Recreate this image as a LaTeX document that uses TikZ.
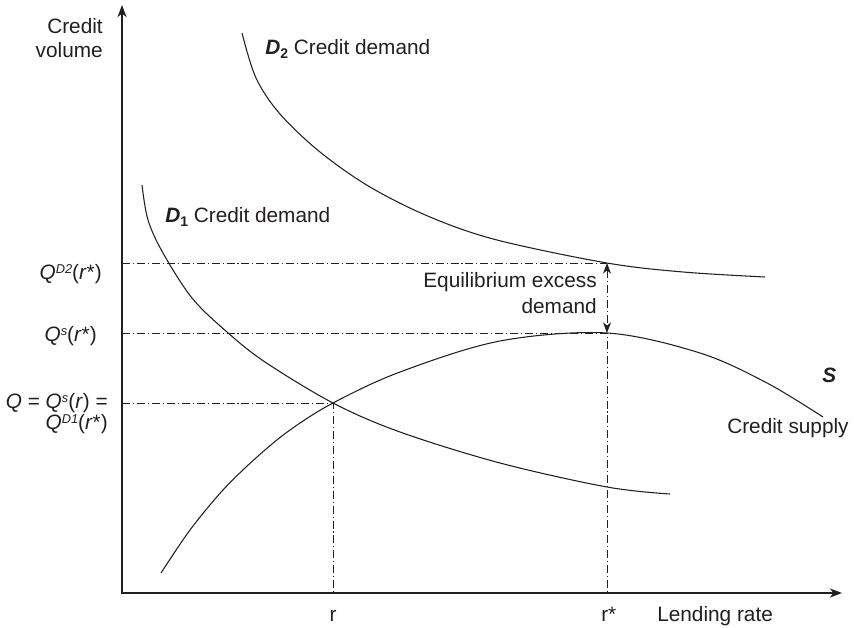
\documentclass[tikz,border=0pt]{standalone}
\usepackage{fontspec}
\setmainfont{Liberation Sans}
\usetikzlibrary{arrows.meta}
\definecolor{ink}{RGB}{35,31,32}
\newcommand\lblfont[1]{\fontsize{15.6}{#1}\selectfont\lineskiplimit-100pt\relax}
\newcommand\supx[1]{\raisebox{4.5pt}{\fontsize{9.6}{10}\selectfont\itshape #1}}
\newcommand\subx[1]{\raisebox{-3.5pt}{\fontsize{10.5}{11}\selectfont\bfseries\upshape #1}}
\tikzset{
  axistip/.tip={Stealth[length=9pt,width=6.75pt,inset=2.5pt]},
  gaptip/.tip={Stealth[length=8pt,width=6pt,inset=2.5pt]},
}
\begin{document}
\begin{tikzpicture}[x=0.75pt,y=-0.75pt,
  lbl/.style={inner sep=0pt, text=ink, font={\lblfont{18}}},
  curve/.style={line width=0.8pt, draw=ink},
  guide/.style={line width=0.65pt, draw=ink, dash pattern=on 6pt off 2.2pt on 0.8pt off 2.2pt},
  ]
\useasboundingbox (0,0) rectangle (854,628);
% key points
\coordinate (O) at (122,593);
\coordinate (ytip) at (122,5);
\coordinate (xtip) at (842,593);
\coordinate (E) at (333,403);
\coordinate (Sr) at (607,333);
\coordinate (Dr) at (607,263);
% axes
\draw[line width=1pt, draw=ink, axistip-axistip] (ytip) -- (O) -- (xtip);
% guide lines
\draw[guide] (O |- E) -- (E) -- (O -| E);
\draw[guide] (O |- Sr) -- (Sr) -- (O -| Sr);
\draw[guide] (O |- Dr) -- (Dr);
\draw[guide, gaptip-gaptip] (Dr) -- (Sr);
% curves
\draw[curve] plot[smooth, tension=0.55] coordinates {(242,33) (256,78) (280,114) (320,152) (370,187) (430,217) (497,240) (607,263) (683,272) (765,277)};
\draw[curve] plot[smooth, tension=0.55] coordinates {(142,185) (148,220) (163,253) (192,298) (227,332) (265,362) (333,403) (400,432) (500,463) (607,487) (670,494)};
\draw[curve] plot[smooth, tension=0.55] coordinates {(161,573) (190,530) (223,490) (257,457) (290,430) (333,403) (400,372) (500,341) (607,333) (700,353) (767,383) (823,417)};
% labels
\node[lbl, anchor=north east, align=right] (ylab) at (103,18) {Credit\\volume};
\node[lbl, anchor=base west] (xlab) at (657,621) {Lending rate};
\node[lbl, anchor=base] (rlab) at (333,621) {r};
\node[lbl, anchor=base west] (rslab) at (601,621) {r*};
\node[lbl, anchor=base west] (d2lab) at (265,54) {\textbf{\textit{D}}\subx{2} Credit demand};
\node[lbl, anchor=base west] (d1lab) at (165,222) {\textbf{\textit{D}}\subx{1} Credit demand};
\node[lbl, anchor=base west] (slab) at (822,382) {\textbf{\textit{S}}};
\node[lbl, anchor=base west] (cslab) at (727,433) {Credit supply};
\node[lbl, anchor=north east, align=right, font={\lblfont{19.5}}] (exlab) at (597,272) {Equilibrium excess\\demand};
\node[lbl, anchor=base east] (qd2) at (102,279) {\textit{Q}\supx{D2}(\textit{r}*)};
\node[lbl, anchor=base east] (qs) at (97,341) {\textit{Q}\supx{s}(\textit{r}*)};
\node[lbl, anchor=north east, align=right, font={\lblfont{15.75}}] (q) at (108,393) {\textit{Q} = \textit{Q}\supx{s}(\textit{r}) =\\\textit{Q}\supx{D1}(\textit{r}*)};
\end{tikzpicture}
\end{document}
